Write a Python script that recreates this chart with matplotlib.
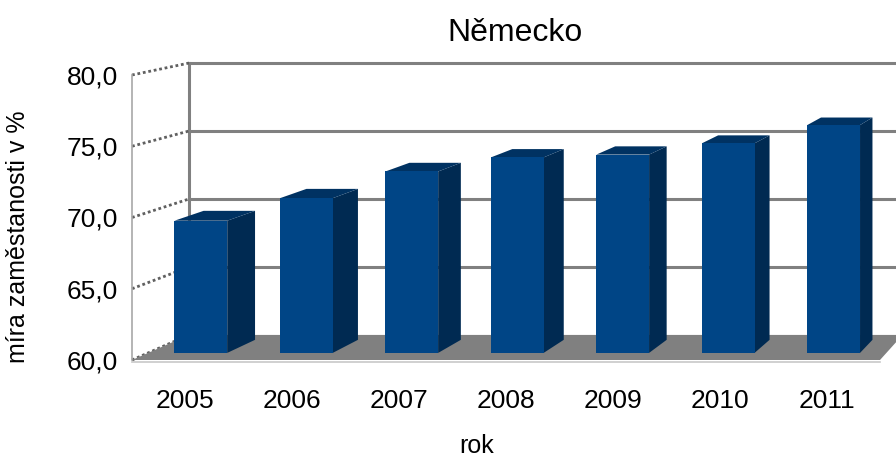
import numpy as np
import matplotlib.pyplot as plt
from matplotlib.patches import Polygon

plt.rcParams['font.family'] = ['Liberation Sans', 'DejaVu Sans']

roky = ['2005', '2006', '2007', '2008', '2009', '2010', '2011']
mira = [69.4, 71.0, 72.9, 73.9, 74.1, 74.9, 76.2]
y_ticks = [60, 65, 70, 75, 80]

# perspektiva: bod (x, v, s) se promitne k uběžníku, s=1 predni rovina
VX, VY = 11.1, 98.25
S_ZED = 0.954           # zadni stena
S_PRED, S_ZAD = 0.987, 0.963   # hloubka sloupcu
SIRKA = 0.5

def proj(x, v, s):
    return (VX + s * (x - VX), VY + s * (v - VY))

fig = plt.figure(figsize=(8.96, 4.58), dpi=100)
W, H = 896, 458
ax = fig.add_axes([132 / W, 98 / H, (880 - 132) / W, (383 - 98) / H])
ax.set_xlim(-0.5, 6.5)
ax.set_ylim(60, 80)
for sp in ax.spines.values():
    sp.set_visible(False)

x0, x1 = -0.5, 6.5
seda = '#808080'

# zadni stena s mrizkou
for v in y_ticks[1:]:
    a, b = proj(x0, v, S_ZED), proj(x1, v, S_ZED)
    ax.plot([a[0], b[0]], [a[1], b[1]], color=seda, lw=2.2, clip_on=False, zorder=1)
a, b = proj(x0, 60, S_ZED), proj(x0, 80, S_ZED)
ax.plot([a[0], b[0]], [a[1], b[1]], color=seda, lw=2.2, clip_on=False, zorder=1)

# leva stena - sikme carky
for v in y_ticks:
    a, b = proj(x0, v, 1.0), proj(x0, v, S_ZED)
    ax.plot([a[0], b[0]], [a[1], b[1]], color='#606060', lw=2, ls=(0, (1, 1)),
            clip_on=False, zorder=1)
ax.plot([x0, x0], [60, 80], color='#a8a8a8', lw=1.2, clip_on=False, zorder=1)

# podlaha
podlaha = [proj(x0, 60, 1.0), proj(x1, 60, 1.0), proj(x1, 60, S_ZED), proj(x0, 60, S_ZED)]
ax.add_patch(Polygon(podlaha, closed=True, facecolor=seda, edgecolor='none',
                     clip_on=False, zorder=2))
ax.plot([x0, x1], [59.85, 59.85], color='#c8c8c8', lw=1.2, clip_on=False, zorder=2)

# sloupce
for i, v in enumerate(mira):
    l, r = i - SIRKA / 2, i + SIRKA / 2
    predni = [proj(l, 60, S_PRED), proj(r, 60, S_PRED), proj(r, v, S_PRED), proj(l, v, S_PRED)]
    bok = [proj(r, 60, S_PRED), proj(r, 60, S_ZAD), proj(r, v, S_ZAD), proj(r, v, S_PRED)]
    vrch = [proj(l, v, S_PRED), proj(r, v, S_PRED), proj(r, v, S_ZAD), proj(l, v, S_ZAD)]
    ax.add_patch(Polygon(bok, closed=True, facecolor='#002a52', edgecolor='none',
                         clip_on=False, zorder=3))
    ax.add_patch(Polygon(vrch, closed=True, facecolor='#003262', edgecolor='none',
                         clip_on=False, zorder=3))
    ax.add_patch(Polygon(predni, closed=True, facecolor='#004586', edgecolor='none',
                         clip_on=False, zorder=4))

ax.set_yticks(y_ticks)
ax.set_yticklabels([f'{t:.1f}'.replace('.', ',') for t in y_ticks])
ax.set_xticks(range(len(roky)))
ax.set_xticklabels(roky)
ax.tick_params(axis='y', length=0, pad=10, labelsize=19)
ax.tick_params(axis='x', length=0, pad=21, labelsize=19)

fig.text(515 / W, 1 - 33 / H, 'Německo', ha='center', va='center', fontsize=23)
fig.text(18 / W, 1 - 237 / H, 'míra zaměstanosti v %', ha='center', va='center',
         rotation=90, fontsize=18)
fig.text(477 / W, 1 - 446 / H, 'rok', ha='center', va='center', fontsize=18)

fig.savefig('out.png', dpi=100)
